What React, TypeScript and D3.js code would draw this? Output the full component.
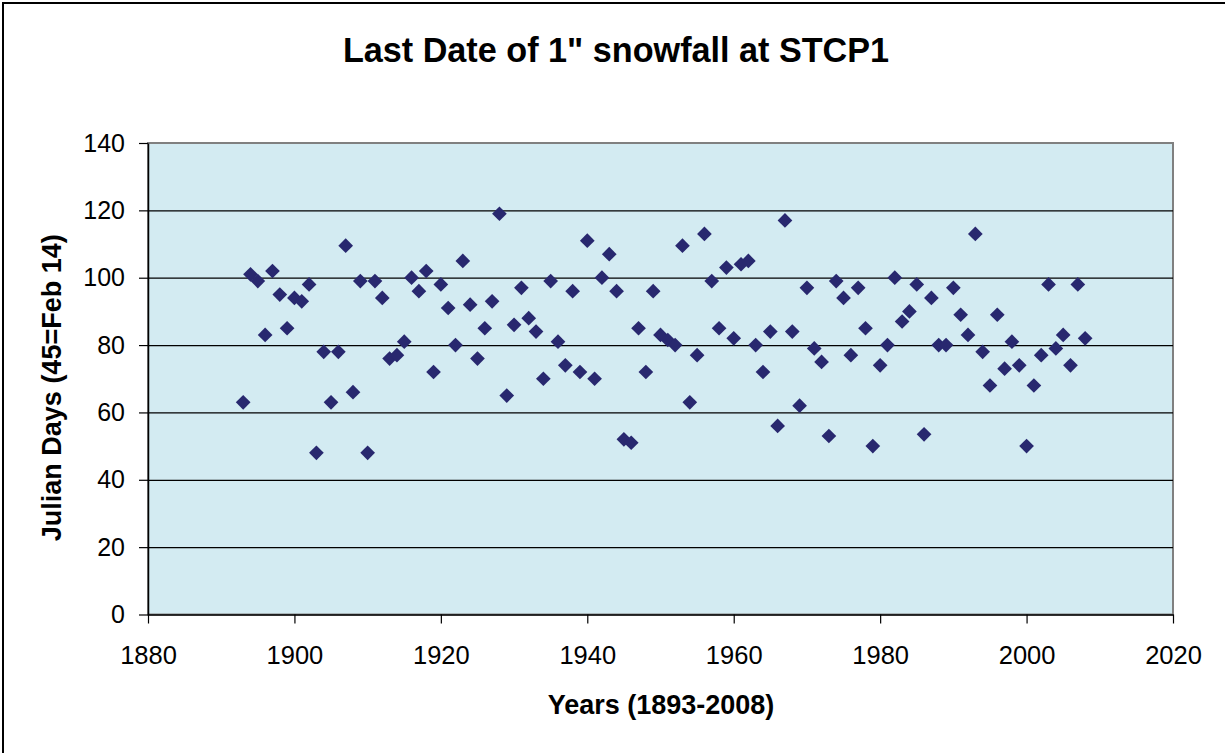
import React, { useEffect, useRef } from 'react'
import * as d3 from 'd3'

// one reading per winter, 1893-2008
const years = d3.range(1893, 2009)
const julianDays = [
    63, 101, 99, 83, 102, 95, 85, 94, 93, 98,
    48, 78, 63, 78, 109.5, 66, 99, 48, 99, 94,
    76, 77, 81, 100, 96, 102, 72, 98, 91, 80,
    105, 92, 76, 85, 93, 119, 65, 86, 97, 88,
    84, 70, 99, 81, 74, 96, 72, 111, 70, 100,
    107, 96, 52, 51, 85, 72, 96, 83, 81.5, 80,
    109.5, 63, 77, 113, 99, 85, 103, 82, 104, 105,
    80, 72, 84, 56, 117, 84, 62, 97, 79, 75,
    53, 99, 94, 77, 97, 85, 50, 74, 80, 100,
    87, 90, 98, 53.5, 94, 80, 80, 97, 89, 83,
    113, 78, 68, 89, 73, 81, 74, 50, 68, 77,
    98, 79, 83, 74, 98, 82
]
const yTicks = [0, 20, 40, 60, 80, 100, 120, 140]
const xTicks = [1880, 1900, 1920, 1940, 1960, 1980, 2000, 2020]

const chartTitle = 'Last Date of 1" snowfall at STCP1'
const xTitle = 'Years (1893-2008)'
const yTitle = 'Julian Days (45=Feb 14)'

const font = "Arial, 'Liberation Sans', sans-serif"

const App = () => {
    const ref = useRef<SVGSVGElement>(null)

    useEffect(() => {
        const svg = d3.select(ref.current)
        svg.selectAll('*').remove()

        const plotLeft = 148
        const plotRight = 1173
        const plotTop = 143
        const plotBottom = 614.5

        const xScale = d3.scaleLinear().domain([1880, 2020]).range([plotLeft, plotRight])
        const yScale = d3.scaleLinear().domain([0, 140]).range([plotBottom, plotTop])

        // outer frame (right/bottom edges fall outside the picture)
        svg.append('rect')
            .attr('x', 3).attr('y', 3)
            .attr('width', 1300).attr('height', 900)
            .attr('fill', '#fff')
            .attr('stroke', '#000')
            .attr('stroke-width', 2)

        svg.append('rect')
            .attr('x', plotLeft).attr('y', plotTop)
            .attr('width', plotRight - plotLeft).attr('height', plotBottom - plotTop)
            .attr('fill', '#D3EBF2')
            .attr('stroke', '#808080')
            .attr('stroke-width', 2)

        // gridlines
        svg.append('g')
            .attr('transform', `translate(${plotLeft},0)`)
            .call(d3.axisLeft(yScale).tickValues(yTicks.slice(1, -1)).tickSize(-(plotRight - plotLeft)).tickFormat(() => ''))
            .call(g => g.select('.domain').remove())
            .call(g => g.selectAll('line').attr('stroke', '#000').attr('stroke-width', 1.2))

        const yAxis = svg.append('g')
            .attr('transform', `translate(${plotLeft},0)`)
            .call(d3.axisLeft(yScale).tickValues(yTicks).tickSize(9).tickSizeOuter(0).tickPadding(14))
        yAxis.selectAll('text').attr('font-family', font).attr('font-size', 25).attr('fill', '#000')
        yAxis.selectAll('line').attr('stroke', '#000').attr('stroke-width', 1.2)
        yAxis.select('.domain').attr('stroke', '#000').attr('stroke-width', 1.5)

        const xAxis = svg.append('g')
            .attr('transform', `translate(0,${plotBottom})`)
            .call(d3.axisBottom(xScale).tickValues(xTicks).tickSize(9).tickSizeOuter(0).tickPadding(22).tickFormat(d3.format('d')))
        xAxis.selectAll('text').attr('font-family', font).attr('font-size', 25.5).attr('fill', '#000')
        xAxis.selectAll('line').attr('stroke', '#000').attr('stroke-width', 1.2)
        xAxis.select('.domain').attr('stroke', '#000').attr('stroke-width', 1.5)

        const diamond = d3.symbol().type(d3.symbolSquare).size(108)

        svg.append('g')
            .selectAll('path')
            .data(julianDays)
            .join('path')
            .attr('d', diamond)
            .attr('transform', (d, i) => `translate(${xScale(years[i])},${yScale(d)}) rotate(45)`)
            .attr('fill', '#28286F')

        svg.append('text')
            .attr('x', 616).attr('y', 62)
            .attr('text-anchor', 'middle')
            .attr('font-family', font)
            .attr('font-weight', 'bold')
            .attr('font-size', 34.2)
            .text(chartTitle)

        svg.append('text')
            .attr('x', 661).attr('y', 714)
            .attr('text-anchor', 'middle')
            .attr('font-family', font)
            .attr('font-weight', 'bold')
            .attr('font-size', 27)
            .text(xTitle)

        svg.append('text')
            .attr('transform', `translate(61,${(plotTop + plotBottom) / 2 + 9}) rotate(-90)`)
            .attr('text-anchor', 'middle')
            .attr('font-family', font)
            .attr('font-weight', 'bold')
            .attr('font-size', 27)
            .text(yTitle)
    }, [])

    return (
        <svg ref={ref} width={1225} height={753}
            style={{ position: 'absolute', left: 0, top: 0, display: 'block' }} />
    )
}

export default App
